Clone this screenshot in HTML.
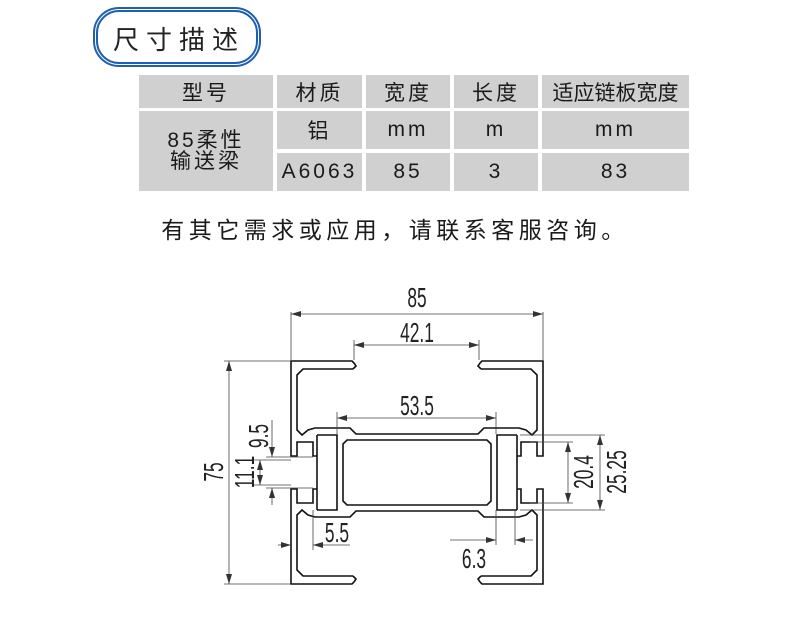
<!DOCTYPE html>
<html><head><meta charset="utf-8"><style>
body{margin:0;width:790px;height:621px;background:#fff;position:relative;overflow:hidden;font-family:"Liberation Sans","Noto Sans CJK SC",sans-serif;}
.title{position:absolute;left:93px;top:7px;width:158px;height:50px;border:3px double #1d5fb0;border-width:5px;border-radius:26px;box-sizing:content-box;}
.title span{position:absolute;left:4px;right:0;top:8px;text-align:center;font-size:26px;letter-spacing:7px;color:#222;}
.c{position:absolute;background:#d0d0d0;display:flex;align-items:center;justify-content:center;font-size:21px;color:#1a1a1a;letter-spacing:3px;}
.note{position:absolute;left:0;width:790px;top:211px;text-align:center;font-size:23px;letter-spacing:4.5px;color:#1a1a1a;}
</style></head><body>
<div class="title"><span>尺寸描述</span></div>
<div class="c" style="left:139px;top:75px;width:134px;height:33px">型号</div>
<div class="c" style="left:277px;top:75px;width:85px;height:33px">材质</div>
<div class="c" style="left:366px;top:75px;width:84px;height:33px">宽度</div>
<div class="c" style="left:454px;top:75px;width:84px;height:33px">长度</div>
<div class="c" style="left:542px;top:75px;width:147px;height:33px;letter-spacing:0">适应链板宽度</div>
<div class="c" style="left:139px;top:111px;width:134px;height:80px;line-height:21px;text-align:center;flex-direction:column"><div>85柔性</div><div>输送梁</div></div>
<div class="c" style="left:277px;top:111px;width:85px;height:38px">铝</div>
<div class="c" style="left:366px;top:111px;width:84px;height:38px">mm</div>
<div class="c" style="left:454px;top:111px;width:84px;height:38px">m</div>
<div class="c" style="left:542px;top:111px;width:147px;height:38px">mm</div>
<div class="c" style="left:277px;top:153px;width:85px;height:38px">A6063</div>
<div class="c" style="left:366px;top:153px;width:84px;height:38px">85</div>
<div class="c" style="left:454px;top:153px;width:84px;height:38px">3</div>
<div class="c" style="left:542px;top:153px;width:147px;height:38px">83</div>
<div class="note">有其它需求或应用，请联系客服咨询。</div>
<svg width="790" height="621" style="position:absolute;left:0;top:0">
<defs>
<marker id="a" viewBox="0 0 10 6" refX="10" refY="3" markerWidth="10" markerHeight="6" orient="auto-start-reverse" markerUnits="userSpaceOnUse"><path d="M0,0L10,3L0,6z" fill="#333"/></marker>
<g id="q" fill="none" stroke="#111" stroke-width="1.6">
<polyline points="354,363 352,361 291,361 291,456 297,456 297,442 313,442 313,456 317,456"/>
<polyline points="353,369 303,369 297,375 297,430 302,435 308,430 315,428 350,428 356,434 417,434"/>
<polyline points="317,435 337,435 337,472.5"/>
<line x1="317" y1="435" x2="317" y2="472.5"/>
<polyline points="417,440 347,440 343,444 343,472.5"/>
<polyline points="354,363 356,366 353,369"/>
</g>
</defs>
<use href="#q"/>
<use href="#q" transform="translate(834,0) scale(-1,1)"/>
<use href="#q" transform="translate(0,945) scale(1,-1)"/>
<use href="#q" transform="translate(834,945) scale(-1,-1)"/>
<g stroke="#444" stroke-width="0.8" fill="none">
<line x1="291" y1="312" x2="291" y2="360"/><line x1="543" y1="312" x2="543" y2="360"/>
<line x1="291" y1="314" x2="543" y2="314" marker-start="url(#a)" marker-end="url(#a)"/>
<line x1="354" y1="340" x2="354" y2="360"/><line x1="479" y1="340" x2="479" y2="360"/>
<line x1="354" y1="345" x2="479" y2="345" marker-start="url(#a)" marker-end="url(#a)"/>
<line x1="337" y1="412" x2="337" y2="434"/><line x1="496" y1="412" x2="496" y2="434"/>
<line x1="337" y1="418" x2="496" y2="418" marker-start="url(#a)" marker-end="url(#a)"/>
<line x1="224" y1="361" x2="290" y2="361"/><line x1="224" y1="584" x2="290" y2="584"/>
<line x1="229" y1="361" x2="229" y2="584" marker-start="url(#a)" marker-end="url(#a)"/>
<line x1="266" y1="457" x2="313" y2="457"/><line x1="266" y1="488" x2="313" y2="488"/>
<line x1="272" y1="420" x2="272" y2="457" marker-end="url(#a)"/><line x1="272" y1="505" x2="272" y2="488" marker-end="url(#a)"/>
<line x1="254" y1="460" x2="291" y2="460"/><line x1="254" y1="485" x2="291" y2="485"/>
<line x1="260" y1="460" x2="260" y2="485" marker-start="url(#a)" marker-end="url(#a)"/>
<line x1="530" y1="442" x2="573" y2="442"/><line x1="530" y1="503" x2="573" y2="503"/>
<line x1="568" y1="442" x2="568" y2="503" marker-start="url(#a)" marker-end="url(#a)"/>
<line x1="520" y1="435" x2="605" y2="435"/><line x1="520" y1="510" x2="605" y2="510"/>
<line x1="600" y1="435" x2="600" y2="510" marker-start="url(#a)" marker-end="url(#a)"/>
<line x1="313" y1="510" x2="313" y2="550"/>
<line x1="278" y1="545" x2="291" y2="545" marker-end="url(#a)"/><line x1="350" y1="545" x2="313" y2="545" marker-end="url(#a)"/>
<line x1="496" y1="510" x2="496" y2="545"/><line x1="515" y1="510" x2="515" y2="545"/>
<line x1="450" y1="540" x2="496" y2="540" marker-end="url(#a)"/><line x1="533" y1="540" x2="515" y2="540" marker-end="url(#a)"/>
</g>
<g font-family="Liberation Sans, sans-serif" font-size="28" fill="#222" text-anchor="middle">
<text transform="translate(417,307) scale(0.62,1)">85</text>
<text transform="translate(417,342) scale(0.62,1)">42.1</text>
<text transform="translate(417,415) scale(0.62,1)">53.5</text>
<text transform="translate(337,542) scale(0.62,1)">5.5</text>
<text transform="translate(474,568) scale(0.62,1)">6.3</text>
<text transform="translate(223,472) rotate(-90) scale(0.62,1)">75</text>
<text transform="translate(268,436) rotate(-90) scale(0.62,1)">9.5</text>
<text transform="translate(254,472) rotate(-90) scale(0.62,1)">11.1</text>
<text transform="translate(593,472) rotate(-90) scale(0.62,1)">20.4</text>
<text transform="translate(626,472) rotate(-90) scale(0.62,1)">25.25</text>
</g>
</svg>
</body></html>
